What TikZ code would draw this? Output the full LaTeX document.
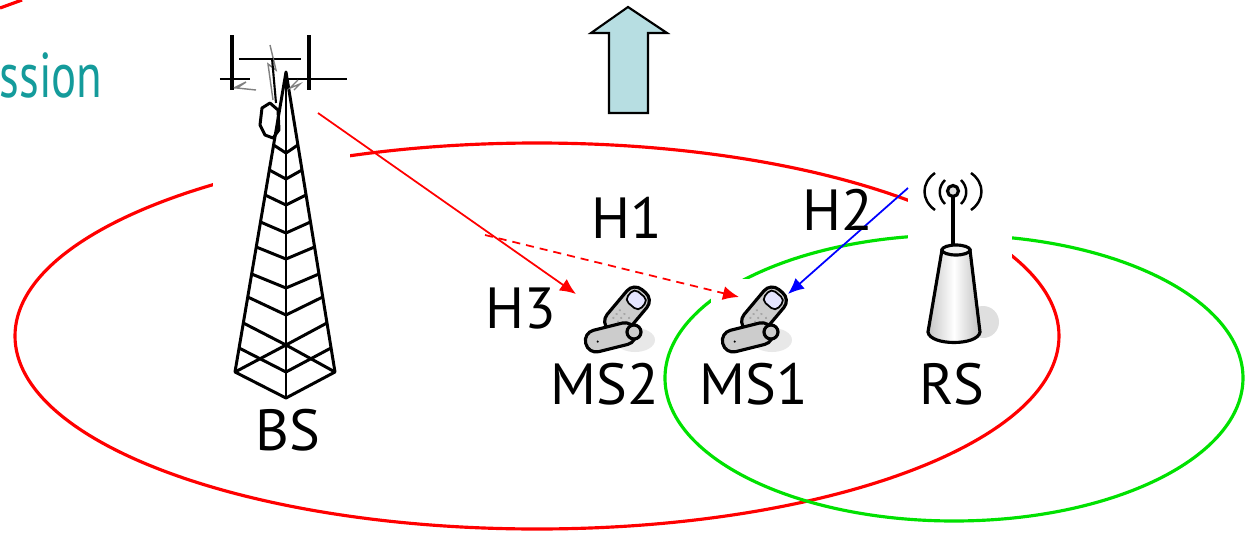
\documentclass[tikz,border=0pt]{standalone}
\usepackage{xcolor}
\usepackage{fontspec}
\setmainfont{PT Sans}
\usepackage{tikz}
\usetikzlibrary{calc}
\usetikzlibrary{arrows.meta}
\usetikzlibrary{shapes,positioning}

\definecolor{tealtext}{RGB}{20,155,155}
\definecolor{cellgreen}{RGB}{0,225,0}
\definecolor{uparrow}{RGB}{183,222,226}

% one flip phone, centred at (#1,#2)
\newcommand{\handset}[2]{%
	\begin{scope}[shift={(#1,#2)}]
		\fill[gray!18] (20,22) ellipse (20 and 12);
		\begin{scope}[shift={(12,-7)},rotate=50]
			\draw[phone] (-26,-13) rectangle (26,13);
			\draw[black,line width=0.5pt,fill=blue!10,rounded corners=1.5pt] (7,-9) rectangle (22,9);
			\foreach \i in {-14,-9,-4}
				\foreach \j in {-6,0,6}
					\fill[gray!70] (\i,\j) circle (1.3);
		\end{scope}
		\begin{scope}[shift={(-3,19)},rotate=14]
			\draw[phone] (-27,-11) rectangle (24,11);
			\fill[black] (-15,1) circle (1.2);
		\end{scope}
		\draw[phone] (19,14) circle (7);
	\end{scope}}

\begin{document}
\begin{tikzpicture}[x=0.01cm,y=-0.01cm,
	cell/.style={line width=0.9pt},
	imgbox/.style={fill=white,inner sep=0pt},
	tower/.style={line width=0.85pt,line join=round},
	phone/.style={line width=0.9pt,fill=gray!40,rounded corners=3pt},
	rsline/.style={line width=0.9pt},
	link/.style={line width=0.5pt,-{Latex[length=1.6mm,width=1.4mm]}},
	lbl/.style={anchor=base,inner sep=0pt,font=\fontsize{16.5}{18}\selectfont}]
	\useasboundingbox (0,0) rectangle (1253,536);

	% coverage areas
	\draw[cell,red] (537,336) ellipse (522 and 193);
	\draw[cell,cellgreen] (954,378) ellipse (289 and 143);
	\draw[cell,red] (0,8) -- (22,0);

	% picture boxes
	\node[imgbox,minimum width=1.37cm,minimum height=3.8cm] (BS) at (281.5,215) {};
	\node[imgbox,minimum width=1.04cm,minimum height=1.82cm] (RS) at (960,259) {};
	\node[imgbox,minimum width=0.82cm,minimum height=0.77cm] (MS1) at (752,318) {};
	\node[imgbox,minimum width=0.82cm,minimum height=0.77cm] (MS2) at (615,318) {};

	% big arrow
	\draw[line width=0.6pt,fill=uparrow] (609,113) -- (609,33) -- (591,33) -- (628,7) -- (667,33) -- (648,33) -- (648,113) -- cycle;

	\node[anchor=base east,inner sep=0pt,text=tealtext,font=\fontsize{18}{20}\selectfont] (title) at (103,97) {\scalebox{0.74}[1]{ssion}};

	% BS tower
	\draw[tower] (235,372) -- (286,72) -- (335,372) -- (286,398) -- cycle;
	\draw[tower] (286,72) -- (286,398);
	\foreach \ly/\cy in {145/153,170/179,195/205,222/233,247/259,274/288,297/315,323/345}
		\draw[tower] ({286-0.17*(\ly-72)},\ly) -- (286,\cy) -- ({286+0.163*(\ly-72)},\ly);
	\draw[tower] ({286-0.17*(348-72)},348) -- (286,372) -- ({286+0.163*(348-72)},348);
	\draw[tower] (235,372) -- (286,345) -- (335,372);
	\draw[tower,line width=1.3pt] (232,35) -- (232,90);
	\draw[tower,line width=1.3pt] (309,35) -- (309,90);
	\draw[tower] (239,59) -- (301,59);
	\draw[tower] (220,79) -- (250,79);
	\draw[tower] (288,79) -- (347,79);
	\draw[gray,line width=0.4pt] (270,45) -- (276,70) -- (268,64) -- (273,100);
	\draw[gray,line width=0.4pt] (234,88) -- (246,82) -- (237,88) -- (256,90);
	\draw[gray,line width=0.4pt] (298,80) -- (290,88) -- (300,84) -- (294,90);
	\draw[tower] (262,108) -- (270,103) -- (278,110) -- (279,130) -- (273,138) -- (265,135) -- (260,125) -- cycle;
	\draw[tower,line width=0.6pt] (272,58) -- (276,103);

	% RS
	\fill[gray!25] (983,322) circle (16);
	\draw[rsline,left color=gray!45,right color=gray!50,middle color=white] (942,250) -- (928,332) .. controls (930,346) and (978,346) .. (980,332) -- (970,250) -- cycle;
	\draw[rsline,fill=gray!10] (956,250) ellipse (14 and 5);
	\draw[rsline] (953,197) -- (953,246);
	\draw[rsline,fill=gray!25] (953,191) circle (5.5);
	\draw[line width=0.7pt] (935,173) .. controls (921,183) and (921,200) .. (935,210);
	\draw[line width=0.7pt] (971,173) .. controls (985,183) and (985,200) .. (971,210);
	\draw[line width=0.7pt] (945,180) .. controls (938,187) and (938,197) .. (945,204);
	\draw[line width=0.7pt] (961,180) .. controls (968,187) and (968,197) .. (961,204);

	% MS
	\handset{752}{318}
	\handset{615}{318}

	% links
	\coordinate (bs tx) at (318,113);
	\coordinate (h1 src) at (485,235);
	\coordinate (rs tx) at (908,188);
	\coordinate (ms2 in) at ($(MS2)+(-39,-24)$);
	\coordinate (ms1 in) at ($(MS1)+(-13,-21)$);
	\coordinate (ms1 rx) at ($(MS1)+(36,-24)$);
	\draw[link,red] (bs tx) -- (ms2 in);
	\draw[link,red,dash pattern=on 2.3pt off 1.7pt] (h1 src) -- (ms1 in);
	\draw[link,blue] (rs tx) -- (ms1 rx);

	% labels
	\node[lbl] (h1) at (627,238) {H1};
	\node[lbl] (h2) at (838,230) {H2};
	\node[lbl] (h3) at (521,328) {H3};
	\node[lbl] (ms2 label) at (605,404) {MS2};
	\node[lbl] (ms1 label) at (754,404) {MS1};
	\node[lbl] (rs label) at (952,404) {RS};
	\node[lbl] (bs label) at (288,450) {BS};
\end{tikzpicture}
\end{document}
